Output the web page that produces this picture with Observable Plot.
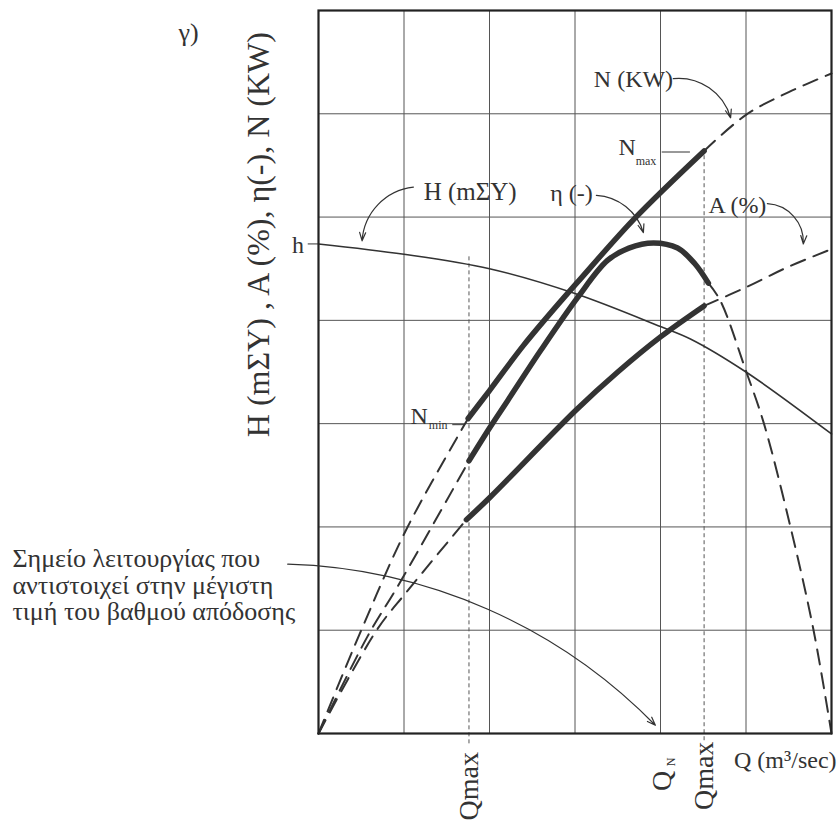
<!DOCTYPE html>
<html>
<head>
<meta charset="utf-8">
<script src="https://cdn.jsdelivr.net/npm/d3@7"></script>
<script src="https://cdn.jsdelivr.net/npm/@observablehq/plot@0.6"></script>
<style>
  body { margin: 0; background: #fff; }
  svg { display: block; }
</style>
</head>
<body>
<div id="chart"></div>
<script>
// Pump characteristic curves against flow Q, in grid units (6 columns × 7 rows).

// Operating limits on the Q axis
const qLow = 1.76;   // left Qmax mark
const qHigh = 4.51;  // right Qmax mark
const qBest = 4.0;   // Q_N, best-efficiency flow

// Head H (mΣY)
const Q_H = [0, 1, 2, 3, 4, 4.35, 5, 6];
const H_head = [4.74, 4.64, 4.50, 4.26, 3.94, 3.82, 3.50, 2.90];

// Power N (KW): operating range, and the extrapolated parts on either side
const Q_N_run = [1.75, 2.0, 2.4, 2.87, 3.03, 3.69, 4.51];
const N_run = [3.05, 3.32, 3.76, 4.22, 4.37, 4.98, 5.64];
const Q_N_below = [0, 0.50, 1.03, 1.75];
const N_below = [0, 1.0, 1.98, 3.05];
const Q_N_above = [4.51, 5.0, 5.5, 6.0];
const N_above = [5.64, 5.99, 6.21, 6.39];

// Efficiency η (-)
const Q_eta_run = [1.76, 2.01, 2.21, 2.60, 3.03, 3.38, 3.63, 3.92, 4.20, 4.40, 4.56];
const eta_run = [2.64, 2.97, 3.22, 3.71, 4.22, 4.58, 4.70, 4.75, 4.70, 4.55, 4.36];
const Q_eta_below = [0, 0.58, 0.93, 1.76];
const eta_below = [0, 0.95, 1.43, 2.64];
const Q_eta_above = [4.56, 4.70, 5.0, 5.21, 5.52, 5.79, 6.0];
const eta_above = [4.36, 4.19, 3.51, 3.0, 2.0, 1.0, 0];

// A (%)
const Q_A_run = [1.73, 2.01, 3.01, 3.5, 4.0, 4.51];
const A_run = [2.07, 2.29, 3.13, 3.50, 3.84, 4.14];
const Q_A_below = [0, 0.68, 1.03, 1.73];
const A_below = [0, 1.0, 1.37, 2.07];
const Q_A_above = [4.51, 5.0, 5.5, 6.0];
const A_above = [4.14, 4.32, 4.52, 4.69];

// Grid divisions
const gridQ = [1, 2, 3, 4, 5];
const gridV = [1, 2, 3, 4, 5, 6];

// Texts
const yTitle = "H (mΣY) , A (%), η(-), N (KW)";
const xTitle = "Q (m³/sec)";
const noteLines = ["Σημείο λειτουργίας που", "αντιστοιχεί στην μέγιστη", "τιμή του βαθμού απόδοσης"];

const pts = (qs, vs) => qs.map((q, i) => ({q, v: vs[i]}));

const ink = "#333";
const serif = "'Liberation Serif', 'DejaVu Serif', serif";

const thick = {x: "q", y: "v", curve: "catmull-rom", stroke: ink, strokeWidth: 5.5, strokeLinecap: "round"};
const dashed = {x: "q", y: "v", curve: "catmull-rom", stroke: ink, strokeWidth: 2, strokeDasharray: "15,9"};
const font = {fill: ink, fontFamily: serif};

// Single text placed at (q, v) in chart units, baseline on v
const label = (t, q, v, o = {}) =>
  Plot.text([{q, v, t}], {x: "q", y: "v", text: "t", ...font, fontSize: 24, textAnchor: "start", lineAnchor: "bottom", ...o});

// Text turned to read upward, centred on (q, v)
const upright = (t, q, v, o = {}) =>
  Plot.text([{q, v, t}], {x: "q", y: "v", text: "t", ...font, rotate: -90, fontSize: 28, textAnchor: "middle", lineAnchor: "middle", ...o});

// Curved annotation arrow between two chart points
const pointer = (q1, v1, q2, v2, bend) =>
  Plot.arrow([{q1, v1, q2, v2}], {x1: "q1", y1: "v1", x2: "q2", y2: "v2", bend, stroke: ink, strokeWidth: 1.2, headLength: 11, headAngle: 40});

const chart = Plot.plot({
  width: 838,
  height: 821,
  marginLeft: 318,
  marginRight: 7,
  marginTop: 10,
  marginBottom: 88,
  x: {domain: [0, 6], axis: null},
  y: {domain: [0, 7], axis: null},
  style: {fontFamily: serif, background: "#fff", overflow: "visible"},
  marks: [
    Plot.ruleX(gridQ, {stroke: "#555", strokeWidth: 1}),
    Plot.ruleY(gridV, {stroke: "#555", strokeWidth: 1}),

    // Qmax limits
    Plot.ruleX([qLow], {y1: -0.1, y2: 4.63, stroke: "#555", strokeWidth: 1, strokeDasharray: "4,3"}),
    Plot.ruleX([qHigh], {y1: -0.07, y2: 5.6, stroke: "#555", strokeWidth: 1, strokeDasharray: "4,3"}),

    // Head curve
    Plot.line(pts(Q_H, H_head), {x: "q", y: "v", curve: "catmull-rom", stroke: ink, strokeWidth: 1.6}),

    // Extrapolated parts
    Plot.line(pts(Q_N_below, N_below), dashed),
    Plot.line(pts(Q_N_above, N_above), dashed),
    Plot.line(pts(Q_eta_below, eta_below), dashed),
    Plot.line(pts(Q_eta_above, eta_above), dashed),
    Plot.line(pts(Q_A_below, A_below), dashed),
    Plot.line(pts(Q_A_above, A_above), dashed),

    // Operating range
    Plot.line(pts(Q_N_run, N_run), thick),
    Plot.line(pts(Q_eta_run, eta_run), thick),
    Plot.line(pts(Q_A_run, A_run), thick),

    Plot.frame({stroke: "#222", strokeWidth: 2.2}),

    // h at Q = 0
    Plot.ruleY([H_head[0]], {x1: -0.12, x2: 0, stroke: ink, strokeWidth: 1}),
    label("h", -0.24, 4.65, {textAnchor: "middle"}),

    // N_min / N_max
    label("N", 1.076, 3.0),
    label("min", 1.29, 2.95, {fontSize: 12}),
    Plot.ruleY([N_run[0] - 0.06], {x1: 1.57, x2: 1.72, stroke: ink, strokeWidth: 1}),
    label("N", 3.51, 5.60),
    label("max", 3.71, 5.50, {fontSize: 12}),
    Plot.ruleY([N_run[N_run.length - 1] - 0.01], {x1: 4.02, x2: 4.35, stroke: ink, strokeWidth: 1}),

    // Curve names with pointers
    label("H (mΣY)", 1.23, 5.17, {fontSize: 25}),
    pointer(1.11, 5.29, 0.51, 4.77, -40),
    label("η (-)", 2.71, 5.16),
    pointer(3.25, 5.21, 3.80, 4.85, 35),
    label("N (KW)", 3.22, 6.26),
    pointer(4.15, 6.34, 4.82, 5.96, 40),
    label("A (%)", 4.56, 5.04),
    pointer(5.25, 5.13, 5.67, 4.74, 45),

    // Note on the best-efficiency point
    Plot.text(noteLines.map((t, i) => ({t, i})), {
      x: () => -3.58, y: (d) => 1.61 - d.i * 0.255, text: "t",
      ...font, fontSize: 26, textAnchor: "start", lineAnchor: "bottom"
    }),
    pointer(-0.36, 1.64, qBest - 0.06, 0.08, 22),

    // Corner mark and axis titles
    label("γ)", -1.52, 6.70, {textAnchor: "middle", fontSize: 26}),
    upright(yTitle, -0.70, 4.83, {fontSize: 32}),
    label(xTitle, 4.86, -0.33),

    // Q marks below the axis
    upright("Qmax", qLow, -0.51),
    upright("Qmax", qHigh, -0.41),
    upright("Q", qBest + 0.02, -0.46),
    upright("N", qBest + 0.02, -0.46, {fontSize: 12, dx: 9, dy: -19})
  ]
});

document.getElementById("chart").append(chart);
</script>
</body>
</html>
